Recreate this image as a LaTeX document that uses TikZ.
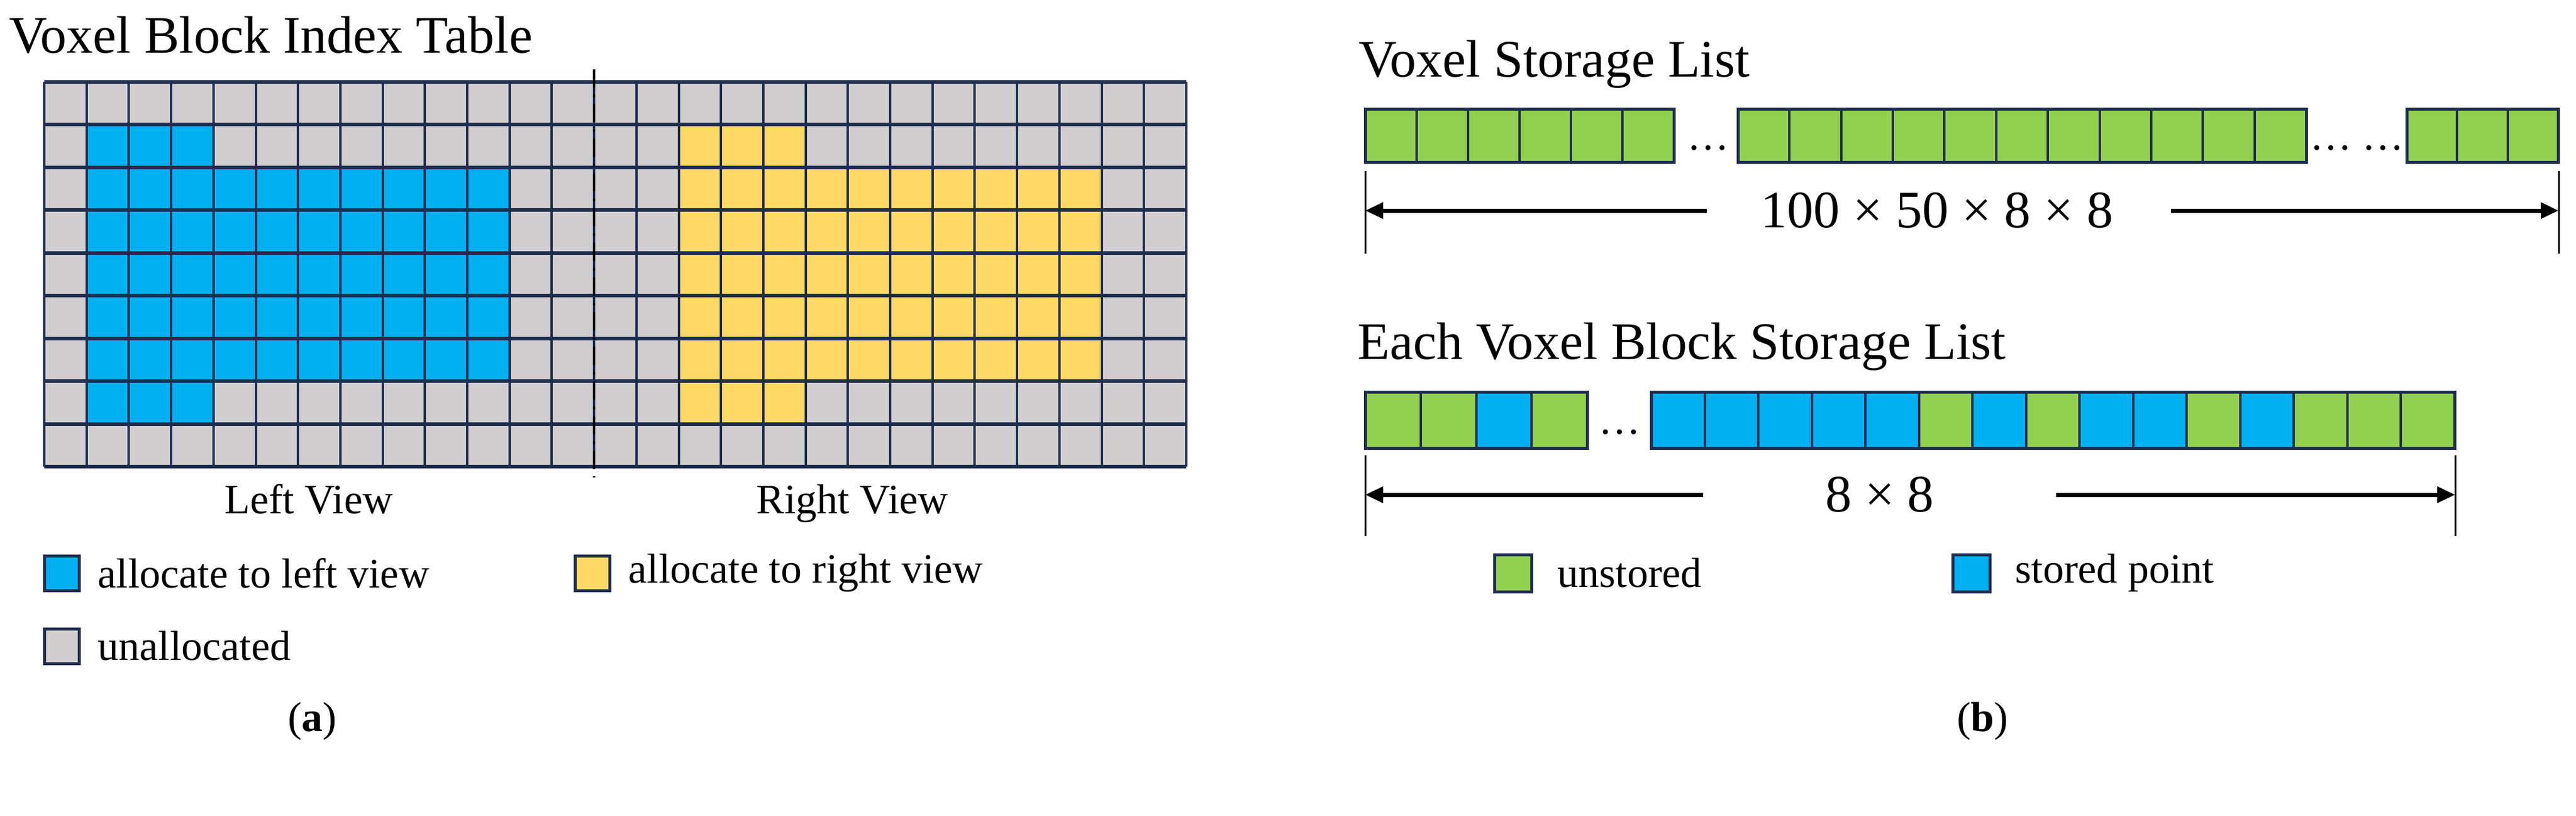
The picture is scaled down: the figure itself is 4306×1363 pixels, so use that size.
\documentclass[tikz,border=0pt]{standalone}
\usepackage{fontspec}
\setmainfont{Liberation Serif}
\usetikzlibrary{arrows.meta}
\definecolor{edge}{HTML}{1F2D4F}
\definecolor{gr}{HTML}{D0CECE}
\definecolor{bl}{HTML}{00B0F0}
\definecolor{ye}{HTML}{FFD966}
\definecolor{gn}{HTML}{92D050}
\colorlet{b}{bl}\colorlet{g}{gn}
\tikzset{
  big/.style={font=\fontsize{88}{96}\selectfont},
  lab/.style={font=\fontsize{70}{80}\selectfont},
  cell/.style={draw=edge,line width=5pt},
  dim/.style={line width=7pt,-{Triangle[length=30pt,width=26pt]}},
  tick/.style={line width=3pt},
}
\newcommand{\strip}[5]{% x0, y0, w, h, colour list
  \foreach \cc [count=\i from 0] in {#5}{
    \fill[\cc] ({#1+\i*#3},#2) rectangle ++(#3,#4);
    \draw[edge,line width=4pt] ({#1+\i*#3},#2) -- ++(0,#4);}
}
\begin{document}
\begin{tikzpicture}[x=1pt,y=-1pt]
\useasboundingbox (0,0) rectangle (4306,1363);
% ---------- (a) grid ----------
\def\cw{70.7}\def\ch{71.44}
\fill[gr] (74,137) rectangle (1983,780);
\fill[bl] ({74+1*\cw},{137+1*\ch}) rectangle ({74+4*\cw},{137+8*\ch});
\fill[bl] ({74+4*\cw},{137+2*\ch}) rectangle ({74+11*\cw},{137+7*\ch});
\fill[ye] ({74+15*\cw},{137+1*\ch}) rectangle ({74+18*\cw},{137+8*\ch});
\fill[ye] ({74+18*\cw},{137+2*\ch}) rectangle ({74+25*\cw},{137+7*\ch});
\foreach \c in {0,...,27} \draw[edge,line width=4pt] ({74+\c*\cw},137) -- ({74+\c*\cw},780);
\foreach \r in {0,...,9} \draw[edge,line width=6pt] (74,{137+\r*\ch}) -- (1983,{137+\r*\ch});
\coordinate (dt) at ({74+13*\cw},116);
\coordinate (db) at ({74+13*\cw},798);
\draw[black,line width=4pt,dash pattern=on 30pt off 12pt on 4pt off 12pt] (dt) -- (db);
\node[big,anchor=base west] (t1) at (12,88) {Voxel Block Index Table};
\node[lab,anchor=base] (lv) at (516,858) {Left View};
\node[lab,anchor=base] (rv) at (1425,858) {Right View};
% legend a
\node[cell,fill=bl,minimum size=58pt,inner sep=0] (lb) at (103,958) {};
\node[lab,anchor=west] (lbt) at (160,958) {allocate to left view};
\node[cell,fill=ye,minimum size=58pt,inner sep=0] (ly) at (990,958) {};
\node[lab,anchor=west] (lyt) at (1047,958) {allocate to right view};
\node[cell,fill=gr,minimum size=58pt,inner sep=0] (lg) at (103,1080) {};
\node[lab,anchor=west] (lgt) at (160,1080) {unallocated};
\node[lab,anchor=base] (ca) at (522,1222) {(\textbf{a})};
% ---------- (b) ----------
\node[big,anchor=base west] (t2) at (2268,128) {Voxel Storage List};
\strip{2282}{182}{86}{89}{g,g,g,g,g,g}
\draw[cell] (2282,182) rectangle (2798,271);
\strip{2905}{182}{86.36}{89}{g,g,g,g,g,g,g,g,g,g,g}
\draw[cell] (2905,182) rectangle (3855,271);
\strip{4023}{182}{84.3}{89}{g,g,g}
\draw[cell] (4023,182) rectangle (4276,271);
\node[lab,anchor=base] (d1) at (2855,250) {\dots};
\node[lab,anchor=base] (d2) at (3940,250) {\dots\ \dots};
\coordinate (l1) at (2282,286); \coordinate (l1b) at (2282,424);
\coordinate (r1) at (4277,286); \coordinate (r1b) at (4277,424);
\draw[tick] (l1) -- (l1b); \draw[tick] (r1) -- (r1b);
\node[big] (n1) at (3238,352) {100 × 50 × 8 × 8};
\coordinate (a1l) at (2853,352); \coordinate (a1r) at (3629,352);
\draw[dim] (a1l) -- (l1|-a1l);
\draw[dim] (a1r) -- (r1|-a1r);
\node[big,anchor=base west] (t3) at (2266,600) {Each Voxel Block Storage List};
\strip{2282}{655}{92.75}{94}{g,g,b,g}
\draw[cell] (2282,655) rectangle (2653,749);
\strip{2760}{655}{89.53}{94}{b,b,b,b,b,g,b,g,b,b,g,b,g,g,g}
\draw[cell] (2760,655) rectangle (4103,749);
\node[lab,anchor=base] (d3) at (2707,725) {\dots};
\coordinate (l2) at (2282,761); \coordinate (l2b) at (2282,896);
\coordinate (r2) at (4104,761); \coordinate (r2b) at (4104,896);
\draw[tick] (l2) -- (l2b); \draw[tick] (r2) -- (r2b);
\node[big] (n2) at (3142,827) {8 × 8};
\coordinate (a2l) at (2847,827); \coordinate (a2r) at (3437,827);
\draw[dim] (a2l) -- (l2|-a2l);
\draw[dim] (a2r) -- (r2|-a2r);
% legend b
\node[cell,fill=gn,minimum size=62pt,inner sep=0] (lgn) at (2529,958) {};
\node[lab,anchor=west] (lgnt) at (2600,958) {unstored};
\node[cell,fill=bl,minimum size=62pt,inner sep=0] (lbl) at (3295,958) {};
\node[lab,anchor=west] (lblt) at (3365,958) {stored point};
\node[lab,anchor=base] (cb) at (3314,1222) {(\textbf{b})};
\end{tikzpicture}
\end{document}
